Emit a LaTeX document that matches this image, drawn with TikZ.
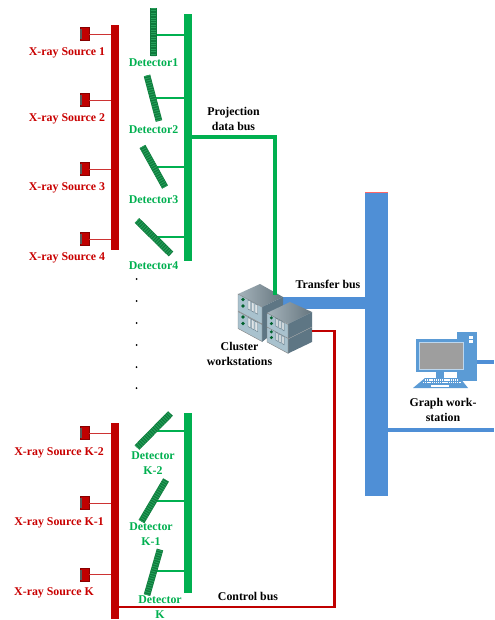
\documentclass[tikz,border=0pt]{standalone}
\usepackage{fontspec}
\setmainfont{Liberation Serif}
\usetikzlibrary{calc}
\definecolor{busred}{HTML}{C00000}
\definecolor{busgreen}{HTML}{00B050}
\definecolor{detdark}{HTML}{0E7A3C}
\definecolor{detlight}{HTML}{25A05A}
\definecolor{busblue}{HTML}{4F8FD6}
\definecolor{pcblue}{HTML}{5B9BD5}
\definecolor{srvtop}{HTML}{7F939E}
\definecolor{srvside}{HTML}{5E7684}
\definecolor{srvfront}{HTML}{A9C2CE}
\tikzset{
  x=0.75pt,y=-0.75pt,
  bus/.style={draw=none,inner sep=0,outer sep=0,minimum width=#1*0.75pt},
  redbus/.style={bus=8,fill=busred},
  greenbus/.style={bus=8,fill=busgreen},
  srcbox/.style={draw=busred!70!black,line width=.4pt,fill=busred,inner sep=0,outer sep=0,minimum width=6.6pt,minimum height=9.75pt},
  redlabel/.style={text=busred!85!red,font=\bfseries\fontsize{8.9}{11}\selectfont,inner sep=0,align=center},
  greenlabel/.style={text=busgreen,font=\bfseries\fontsize{8.9}{11.25}\selectfont,inner sep=0,align=center},
  blacklabel/.style={text=black,font=\bfseries\fontsize{8.9}{11.25}\selectfont,inner sep=0,align=center},
  srclink/.style={draw=busred!80!white,line width=.7pt},
  detlink/.style={draw=busgreen,line width=1.2pt},
  redline/.style={draw=busred,line width=1.8pt},
  greenline/.style={draw=busgreen,line width=2.6pt},
  blueline/.style={draw=busblue,line width=2.6pt},
  tinydot/.style={circle,fill=black,inner sep=0,minimum size=1.5pt}
}
% detector: #1 name, #2 end A, #3 end B
\newcommand{\detector}[3]{%
  \path (#2) coordinate (#1a) (#3) coordinate (#1b);
  \draw[detdark,line width=5pt] (#1a) -- (#1b);
  \draw[detlight,line width=4.4pt,dash pattern=on .7pt off 1.1pt] (#1a) -- (#1b);
  \coordinate (#1) at ($(#1a)!.5!(#1b)$);
}
% source: #1 name, #2 y, #3 label centre x, #4 label y, #5 text, #6 bus
\newcommand{\source}[6]{%
  \node[srcbox] (#1) at (84.5,#2) {};
  \fill[black!65] (80,#2-5) rectangle (82.2,#2+5);
  \draw[srclink] (#1.east) -- (#1.east -| #6.west);
  \node[redlabel] (#1t) at (#3,#4) {#5};
}
% server block: #1 x-left, #2 y of top-left corner of front face, #3 scale
\newcommand{\serverunit}[3]{%
  \begin{scope}[shift={(#1,#2)},scale=#3]
    \fill[srvfront] (0,0) -- (24,13) -- (24,30) -- (0,17) -- cycle;
    \draw[black!50,line width=.3pt] (0,0) -- (24,13) -- (24,30) -- (0,17) -- cycle;
    \fill[busgreen!55!black] (5,5.5) circle (1.9);
    \fill[busgreen!55!black] (5,12) circle (1.9);
    \foreach \s in {10,13.5,17}{
      \fill[white!80!srvside] (\s,\s*.54+0.5) -- (\s+2.5,\s*.54+1.9) -- (\s+2.5,\s*.54+11) -- (\s,\s*.54+9.6) -- cycle;
      \draw[srvside,line width=.3pt] (\s,\s*.54+0.5) -- (\s+2.5,\s*.54+1.9) -- (\s+2.5,\s*.54+11) -- (\s,\s*.54+9.6) -- cycle;
    }
  \end{scope}
}
\begin{document}
\begin{tikzpicture}
\useasboundingbox (0,0) rectangle (494,620);
\fill[white] (0,0) rectangle (494,620);

% buses
\node[redbus,minimum height=225*0.75pt] (rbus1) at (115,137.5) {};
\node[redbus,minimum height=196*0.75pt] (rbus2) at (115,521) {};
\node[greenbus,minimum height=247*0.75pt] (gbus1) at (188,137.5) {};
\node[greenbus,minimum height=180*0.75pt] (gbus2) at (188,503) {};
\node[bus=23,fill=busblue,minimum height=304*0.75pt] (tbus) at (376.5,344) {};
\draw[red!60!white,line width=.5pt] (tbus.north west) -- (tbus.north east);

% sources
\source{s1}{34}{67}{53}{X-ray Source 1}{rbus1}
\source{s2}{100}{67}{119}{X-ray Source 2}{rbus1}
\source{s3}{169}{67}{188}{X-ray Source 3}{rbus1}
\source{s4}{239}{67}{258}{X-ray Source 4}{rbus1}
\source{s5}{433}{59}{453}{X-ray Source K-2}{rbus2}
\source{s6}{503}{59}{523}{X-ray Source K-1}{rbus2}
\source{s7}{574.5}{54}{593}{X-ray Source K}{rbus2}

% detectors
\coordinate (l1) at (156,35);
\coordinate (l2) at (156,98);
\coordinate (l3) at (156,167);
\coordinate (l4) at (157,237);
\coordinate (l5) at (157,431);
\coordinate (l6) at (156,501);
\coordinate (l7) at (156,571);
\foreach \i/\b in {1/gbus1,2/gbus1,3/gbus1,4/gbus1,5/gbus2,6/gbus2,7/gbus2}
  \draw[detlink] (l\i) -- (l\i -| \b.west);
\detector{d1}{153.5,8}{153.5,56}
\detector{d2}{147,75.5}{159,121}
\detector{d3}{142.5,146.5}{165,187}
\detector{d4}{137,220.5}{171,254}
\detector{d5}{137,447.5}{170.5,413.5}
\detector{d6}{141.5,521.5}{166,480}
\detector{d7}{147,595}{160,549.5}

\node[greenlabel] (dl1) at (153.5,62.5) {Detector1};
\node[greenlabel] (dl2) at (153.5,129.5) {Detector2};
\node[greenlabel] (dl3) at (153.5,199.5) {Detector3};
\node[greenlabel] (dl4) at (153.5,266) {Detector4};
\node[greenlabel] (dl5) at (153,463.5) {Detector\\K-2};
\node[greenlabel] (dl6) at (151,534.5) {Detector\\K-1};
\node[greenlabel] (dl7) at (160,607) {Detector\\K};

% dots
\foreach \n/\y in {a/279,b/301,c/323,d/345,e/367,f/388}
  \node[tinydot] (dot\n) at (136.5,\y) {};

% transfer bus
\coordinate (srvT) at (282,303);
\draw[busblue,line width=9pt] (srvT) -- (srvT -| tbus.west);

% cluster workstations: rear stack
\shade[left color=srvtop!70!white,right color=srvtop!80!black] (238,294) -- (260,284) -- (283,297) -- (262,307) -- cycle;
\fill[srvside] (262,307) -- (283,297) -- (283,325) -- (262,342) -- cycle;
\serverunit{238}{294}{1}
\serverunit{238}{311.5}{1}
% projection data bus
\coordinate (srvG) at (275,295);
\draw[greenline] (gbus1.east |- 0,137) -- (275,137) -- (srvG);
% front stack
\shade[left color=srvtop!70!white,right color=srvtop!80!black] (267,313) -- (290,302) -- (312,312) -- (288,324) -- cycle;
\fill[srvside] (288,324) -- (312,312) -- (312,342) -- (288,353.5) -- cycle;
\draw[black!30,line width=.3pt] (288,339) -- (312,327);
\serverunit{267}{313}{.88}
\serverunit{267}{327}{.88}

% control bus
\coordinate (srvR) at (312,331);
\draw[redline] (rbus2.east |- 0,607) -- (334.5,607) -- (334.5,331) -- (srvR);

% graph workstation
\fill[pcblue] (457,332) rectangle (477,381);
\fill[white] (469,336) rectangle (473,339);
\fill[white] (469,340) rectangle (473,343);
\fill[pcblue] (416,339) rectangle (466,372);
\fill[black!38,draw=white!60!pcblue,line width=.5pt] (419,342) rectangle (463,369);
\fill[pcblue] (436,372) rectangle (444,379);
\fill[pcblue] (425,378) -- (460,378) -- (468,388) -- (413,388) -- cycle;
\foreach \r/\a/\b in {380/425/459,382.5/423/461}
  \draw[white,line width=1pt,dash pattern=on 1pt off .6pt] (\a,\r) -- (\b,\r);
\fill[white] (431,384.5) rectangle (449,386.5);
\coordinate (pcU) at (477,362);
\coordinate (pcE1) at (494,362);
\coordinate (pcE2) at (494,430);
\draw[blueline] (pcU) -- (pcE1);
\draw[blueline] (tbus.east |- pcE2) -- (pcE2);

% black labels
\node[blacklabel] (lp) at (233.5,118.5) {Projection\\data bus};
\node[blacklabel] (lt) at (328,284) {Transfer bus};
\node[blacklabel] (lc) at (239.5,353.5) {Cluster\\workstations};
\node[blacklabel] (lg) at (443,409.5) {Graph work-\\station};
\node[blacklabel] (lb) at (248,596) {Control bus};
\end{tikzpicture}
\end{document}
